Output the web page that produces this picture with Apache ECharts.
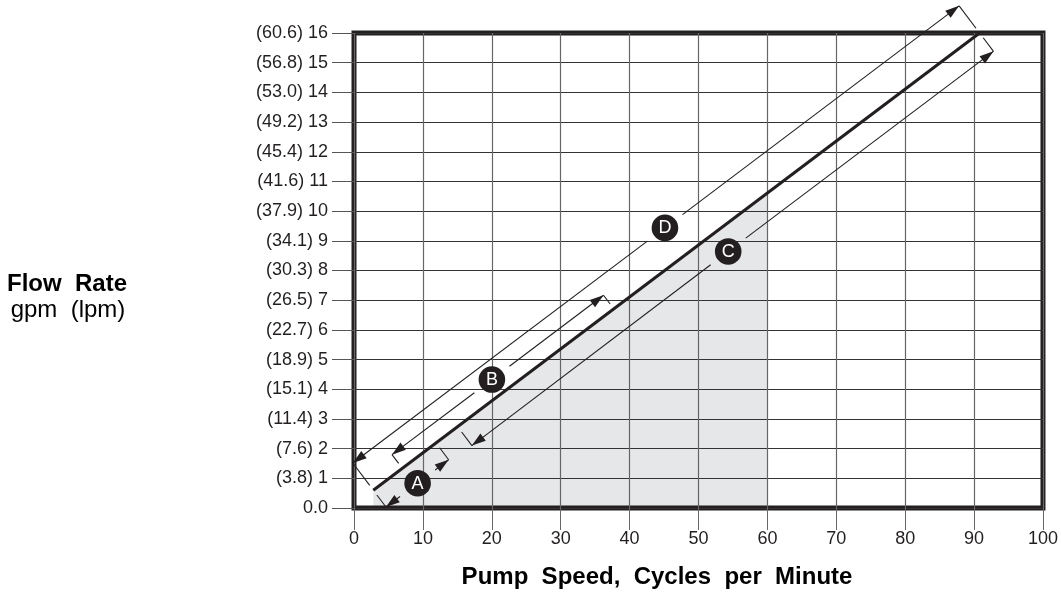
<!DOCTYPE html>
<html><head><meta charset="utf-8">
<script src="https://cdn.jsdelivr.net/npm/echarts@6.0.0/dist/echarts.min.js"></script>
<style>html,body{margin:0;padding:0;background:#fff}#c{width:1061px;height:592px}</style>
</head><body><div id="c"></div>
<script>
// ---- data ----
const speedTicks = [0,10,20,30,40,50,60,70,80,90,100];
const flowTicks = [0,1,2,3,4,5,6,7,8,9,10,11,12,13,14,15,16];
const flowLabels = ['0.0','(3.8) 1','(7.6) 2','(11.4) 3','(15.1) 4','(18.9) 5','(22.7) 6','(26.5) 7','(30.3) 8','(34.1) 9','(37.9) 10','(41.6) 11','(45.4) 12','(49.2) 13','(53.0) 14','(56.8) 15','(60.6) 16'];
const lineSpeed = [2.8, 90.8];
const lineFlow = [0.6, 16.0];
const shadeSpeed = [2.8, 60];
const shadeFlow = [0.6, 10.6];
const dimLabels = ['A','B','C','D'];
const dimStart = [[2.8,0.6],[7.0,1.34],[15.1,2.72],[2.8,0.6]];
const dimEnd = [[11.9,2.19],[37.7,6.71],[90.8,16.0],[90.8,16.0]];
const dimMark = [[7.4,1.4],[21.5,3.87],[52.3,9.26],[48.1,8.52]];

// ---- styles ----
const INK = '#231f20';
const FONT = '"Liberation Sans", Arial, sans-serif';
const DIM_OFFSET = {A:-21, B:17, C:-23, D:34};
const GAP = 22, HEAD_L = 14, HEAD_W = 4.5, TICK_GAP = 6, BADGE_R = 13.3;

const chart = echarts.init(document.getElementById('c'), null, {renderer:'canvas'});

function renderDim(params, api) {
  const i = params.dataIndex;
  const p0 = api.coord(dimStart[i]), p1 = api.coord(dimEnd[i]), m = api.coord(dimMark[i]);
  let ux = p1[0]-p0[0], uy = p1[1]-p0[1];
  const len = Math.hypot(ux, uy); ux /= len; uy /= len;
  const nx = uy, ny = -ux;
  const off = DIM_OFFSET[dimLabels[i]], s = Math.sign(off);
  const P = (p, d, t) => [p[0] + nx*d + ux*t, p[1] + ny*d + uy*t];
  const a = P(p0, off, 0), b = P(p1, off, 0), c = P(m, off, 0);
  const c1 = [c[0]-ux*GAP, c[1]-uy*GAP], c2 = [c[0]+ux*GAP, c[1]+uy*GAP];
  const ln = (q, r) => ({type:'line', shape:{x1:q[0], y1:q[1], x2:r[0], y2:r[1]}, style:{stroke:INK, lineWidth:1.1}});
  const head = (tip, dx, dy) => ({type:'polygon', shape:{points:[
      tip,
      [tip[0]-dx*HEAD_L - dy*HEAD_W, tip[1]-dy*HEAD_L + dx*HEAD_W],
      [tip[0]-dx*HEAD_L + dy*HEAD_W, tip[1]-dy*HEAD_L - dx*HEAD_W]]},
      style:{fill:INK}});
  return {type:'group', children:[
    ln(a, c1), ln(c2, b),
    head(a, -ux, -uy), head(b, ux, uy),
    ln(P(p0, s*TICK_GAP, 0), a), ln(P(p1, s*TICK_GAP, 0), b),
    {type:'circle', shape:{cx:c[0], cy:c[1], r:BADGE_R}, style:{fill:INK}},
    {type:'text', style:{text:dimLabels[i], x:c[0], y:c[1]+0.5, fill:'#fff', font:'18px '+FONT, align:'center', verticalAlign:'middle'}}
  ]};
}

chart.setOption({
  animation:false,
  backgroundColor:'#fff',
  grid:{left:354, right:16, top:33, bottom:84, show:true, borderColor:INK, borderWidth:5, backgroundColor:'transparent'},
  xAxis:{type:'value', min:0, max:100, interval:10,
    axisLine:{show:false},
    axisTick:{show:true, length:22, lineStyle:{color:'#666', width:1}},
    axisLabel:{margin:22, fontSize:18, color:INK, fontFamily:FONT,
      formatter:v => String(speedTicks[speedTicks.indexOf(v)])},
    splitLine:{show:true, lineStyle:{color:'#666', width:1.2}}},
  yAxis:{type:'value', min:0, max:16, interval:1,
    axisLine:{show:false},
    axisTick:{show:true, length:22, lineStyle:{color:'#555', width:1}},
    axisLabel:{margin:26, fontSize:18, color:INK, fontFamily:FONT,
      formatter:v => flowLabels[flowTicks.indexOf(v)]},
    splitLine:{show:true, lineStyle:{color:'#333', width:1}}},
  graphic:[
    {type:'text', x:67, y:284, style:{text:'Flow  Rate', font:'bold 24px '+FONT, fill:'#000', align:'center', verticalAlign:'middle'}},
    {type:'text', x:68, y:310, style:{text:'gpm  (lpm)', font:'24px '+FONT, fill:'#000', align:'center', verticalAlign:'middle'}},
    {type:'text', x:657, y:577, style:{text:'Pump  Speed,  Cycles  per  Minute', font:'bold 24px '+FONT, fill:'#000', align:'center', verticalAlign:'middle'}}
  ],
  series:[
    {type:'line', z:-1, symbol:'none', clip:false,
      data: shadeSpeed.map((x,k) => [x, shadeFlow[k]]),
      lineStyle:{width:0, color:'#e6e7e8'}, areaStyle:{color:'#e6e7e8', opacity:1}},
    {type:'line', z:4, symbol:'none', clip:false,
      data: lineSpeed.map((x,k) => [x, lineFlow[k]]),
      lineStyle:{width:3, color:INK}},
    {type:'custom', z:5, coordinateSystem:'cartesian2d', renderItem:renderDim,
      data: dimMark}
  ]
});
</script></body></html>
